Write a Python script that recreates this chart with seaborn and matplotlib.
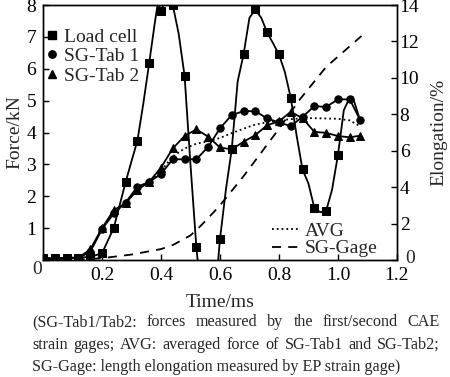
import numpy as np
import pandas as pd
import matplotlib
matplotlib.use("Agg")
import matplotlib.pyplot as plt
import seaborn as sns
from matplotlib.lines import Line2D

# ---- data ----
load_t = [0.0, 0.04, 0.08, 0.12, 0.16, 0.20, 0.24, 0.28, 0.30, 0.32, 0.34, 0.36, 0.38, 0.39, 0.40,
          0.42, 0.44, 0.46, 0.48, 0.50, 0.52, 0.54, 0.58, 0.60, 0.62, 0.64, 0.66, 0.68, 0.70,
          0.72, 0.74, 0.76, 0.78, 0.80, 0.82, 0.84, 0.86, 0.88, 0.90, 0.92, 0.94, 0.96, 0.98,
          1.00, 1.02, 1.04, 1.05, 1.075]
load_f = [0.05, 0.05, 0.07, 0.07, 0.10, 0.21, 1.01, 2.44, 3.10, 3.74, 4.90, 6.18, 7.50, 8.10, 7.82,
          8.30, 8.00, 7.10, 5.78, 3.00, 0.40, -1.5, -1.5, 0.65, 2.20, 3.48, 5.60, 6.45, 7.60,
          7.86, 7.60, 7.14, 6.80, 6.45, 5.90, 5.09, 3.90, 2.84, 2.40, 1.64, 1.50, 1.54, 2.20,
          3.29, 4.70, 5.10, 5.12, 4.39]
load_marks = [0, 1, 2, 3, 4, 5, 6, 7, 9, 11, 14, 16, 18, 20, 23, 25, 27, 29, 31, 33, 35, 37,
              39, 41, 43]

tab_t = [0.0, 0.04, 0.08, 0.12, 0.16, 0.20, 0.24, 0.28, 0.32, 0.36, 0.40, 0.44, 0.48, 0.52,
         0.56, 0.60, 0.64, 0.68, 0.72, 0.76, 0.80, 0.84, 0.88, 0.92, 0.96, 1.00, 1.04, 1.075]
tab1_f = [0.05, 0.05, 0.07, 0.07, 0.25, 0.97, 1.46, 1.80, 2.30, 2.45, 2.70, 3.16, 3.16, 3.16,
          3.55, 4.13, 4.55, 4.67, 4.67, 4.44, 4.32, 4.20, 4.49, 4.83, 4.80, 5.04, 5.04, 4.40]
tab2_f = [0.05, 0.05, 0.07, 0.07, 0.33, 1.00, 1.57, 1.78, 2.20, 2.45, 2.90, 3.50, 3.89, 4.10,
          3.87, 3.53, 3.47, 3.71, 3.92, 4.23, 4.35, 4.65, 4.45, 4.02, 3.99, 3.89, 3.85, 3.90]

avg_t = [0.0, 0.12, 0.16, 0.20, 0.24, 0.28, 0.32, 0.36, 0.40, 0.44, 0.48, 0.52, 0.56, 0.60,
         0.64, 0.68, 0.72, 0.76, 0.80, 0.84, 0.88, 0.92, 0.96, 1.00, 1.04, 1.075]
avg_f = [0.05, 0.07, 0.30, 0.98, 1.50, 1.80, 2.25, 2.45, 2.80, 3.25, 3.50, 3.65, 3.72, 3.83,
         3.98, 4.12, 4.25, 4.32, 4.38, 4.42, 4.45, 4.45, 4.44, 4.43, 4.38, 4.20]

gage_t = [0.0, 0.10, 0.20, 0.30, 0.40, 0.44, 0.50, 0.53, 0.56, 0.60, 0.68, 0.80, 0.87, 0.96, 1.08]
gage_e = [0.0, 0.0, 0.1, 0.3, 0.6, 0.82, 1.35, 1.8, 2.3, 3.0, 4.6, 7.2, 8.8, 10.6, 12.3]

caption = ["(SG-Tab1/Tab2: forces measured by the first/second CAE",
           "strain gages; AVG: averaged force of SG-Tab1 and SG-Tab2;",
           "SG-Gage: length elongation measured by EP strain gage)"]

sns.set_style("ticks")
plt.rcParams["font.family"] = ["Liberation Serif", "DejaVu Serif"]

fig, ax = plt.subplots(figsize=(4.5, 3.77), dpi=100)
fig.subplots_adjust(left=0.0956, right=0.882, bottom=0.3103, top=0.9867)

lw = 1.3
ms = 5.3
sns.lineplot(x=load_t, y=load_f, ax=ax, color="k", lw=lw, marker="s", markersize=ms,
             markeredgecolor="k", markevery=load_marks, legend=False)
sns.lineplot(x=tab_t, y=tab1_f, ax=ax, color="k", lw=lw, marker="o", markersize=ms,
             markeredgecolor="k", legend=False)
sns.lineplot(x=tab_t, y=tab2_f, ax=ax, color="k", lw=lw, marker="^", markersize=ms,
             markeredgecolor="k", legend=False)
sns.lineplot(x=avg_t, y=avg_f, ax=ax, color="k", lw=1.3, legend=False)
ax.lines[-1].set_linestyle(":")

ax.set_xlim(0, 1.2)
ax.set_ylim(0, 8)
ax.set_xticks([0, 0.2, 0.4, 0.6, 0.8, 1.0, 1.2])
ax.set_xticklabels(["", "0.2", "0.4", "0.6", "0.8", "1.0", "1.2"])
ax.set_yticks(range(0, 9))
ax.set_yticklabels([""] + [str(v) for v in range(1, 9)])
ax.tick_params(direction="in", length=4, width=1, labelsize=14, colors="k")
ax.tick_params(axis="x", pad=5)
ax.tick_params(axis="y", pad=5)
ax.set_xlabel("Time/ms", fontsize=14, labelpad=7)
ax.set_ylabel("Force/kN", fontsize=14, labelpad=2)
# the origin "0" sits a little below the corner in the reference
fig.text(37 / 450, 1 - 269 / 377, "0", fontsize=14, ha="center", va="center")

ax2 = ax.twinx()
sns.lineplot(x=gage_t, y=gage_e, ax=ax2, color="k", lw=1.3, legend=False)
ax2.lines[-1].set_dashes([5, 4])
ax2.set_ylim(0, 14)
ax2.set_yticks(range(0, 15, 2))
ax2.set_yticklabels([""] + [str(v) for v in range(2, 15, 2)])
ax2.tick_params(direction="in", length=4, width=1, labelsize=14, pad=2, colors="k")
ax2.set_ylabel("Elongation/%", fontsize=14, labelpad=8)
# right-hand "0" sits just above the x tick labels
fig.text(405 / 450, 1 - 263 / 377, "0", fontsize=14, ha="left", va="baseline")

for a in (ax, ax2):
    for s in a.spines.values():
        s.set_color("k")
        s.set_linewidth(1)

h1 = [Line2D([], [], color="k", marker=m, ls="none", markersize=ms) for m in ("s", "o", "^")]
leg1 = ax2.legend(h1, ["Load cell", "SG-Tab 1", "SG-Tab 2"], loc="upper left",
                  bbox_to_anchor=(0.01, 0.91), frameon=False, fontsize=14,
                  handlelength=0.6, handletextpad=0.3, labelspacing=0.1,
                  borderpad=0, borderaxespad=0)
ax2.add_artist(leg1)
h2 = [Line2D([], [], color="k", ls=":", lw=1.3),
      Line2D([], [], color="k", ls=(0, (5, 4)), lw=1.3)]
ax2.legend(h2, ["AVG", "SG-Gage"], loc="lower right", bbox_to_anchor=(0.945, 0.01),
           frameon=False, fontsize=14, handlelength=1.4, handletextpad=0.3,
           labelspacing=0.0, borderpad=0, borderaxespad=0)

# justified caption under the chart
renderer = fig.canvas.get_renderer()
x0, x1 = 32 / 450, 440 / 450
ys = [1 - 322 / 377, 1 - 345 / 377, 1 - 367 / 377]
for i, line in enumerate(caption):
    if i == len(caption) - 1:
        fig.text(x0, ys[i], line, fontsize=11.6, va="center", ha="left")
        continue
    words = line.split(" ")
    texts = [fig.text(0, ys[i], w, fontsize=11.6, va="center", ha="left") for w in words]
    widths = [t.get_window_extent(renderer).width / fig.bbox.width for t in texts]
    gap = (x1 - x0 - sum(widths)) / (len(words) - 1)
    x = x0
    for t, w in zip(texts, widths):
        t.set_x(x)
        x += w + gap

fig.savefig("out.png", dpi=100)
